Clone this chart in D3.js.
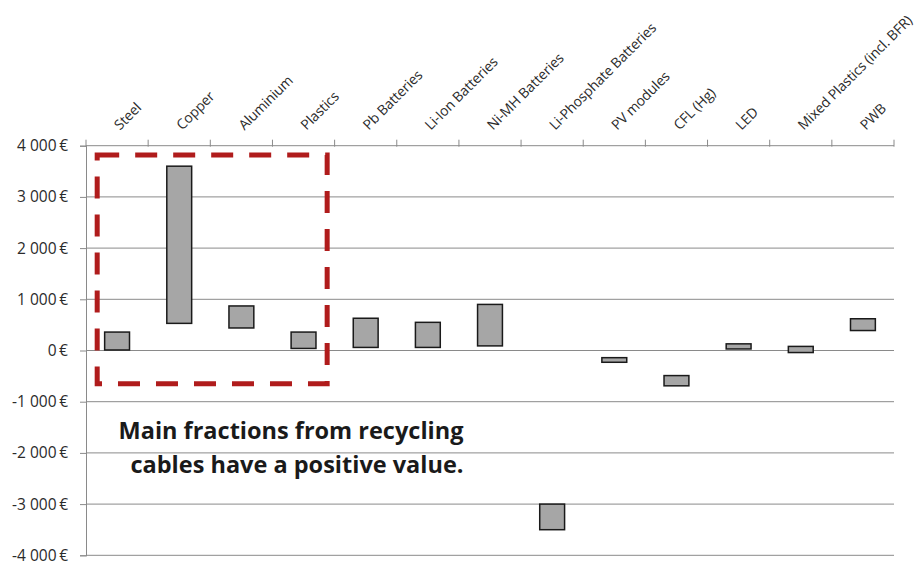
<!DOCTYPE html>
<html>
<head>
<meta charset="utf-8">
<script src="https://cdn.jsdelivr.net/npm/d3@7/dist/d3.min.js"></script>
<style>
  html, body { margin: 0; padding: 0; background: #fff; }
  svg { display: block; }
  text { font-family: "Open Sans", "DejaVu Sans", sans-serif; }
</style>
</head>
<body>
<svg id="chart" width="920" height="565"></svg>
<script>
// Value range (€) of each recovered fraction: lower and upper bound
const categories = ["Steel", "Copper", "Aluminium", "Plastics", "Pb Batteries", "Li-Ion Batteries",
  "Ni-MH Batteries", "Li-Phosphate Batteries", "PV modules", "CFL (Hg)", "LED",
  "Mixed Plastics (incl. BFR)", "PWB"];
const lowValues  = [10, 530, 440, 40, 60, 60, 90, -3500, -230, -690, 30, -40, 390];
const highValues = [360, 3600, 870, 360, 630, 550, 900, -3000, -140, -490, 130, 80, 620];
const yTicks = [4000, 3000, 2000, 1000, 0, -1000, -2000, -3000, -4000];
const noteLines = ["Main fractions from recycling", "cables have a positive value."];

const svg = d3.select("#chart");
const plotLeft = 86, plotRight = 894, plotTop = 145.7, plotBottom = 555.3;

const x = d3.scaleBand().domain(categories).range([plotLeft, plotRight]).padding(0);
const y = d3.scaleLinear().domain([-4000, 4000]).range([plotBottom, plotTop]);

const euro = d3.formatLocale({
  decimal: ",", thousands: "\u00a0", grouping: [3], currency: ["", "\u2009€"], minus: "-"
}).format("$,");

const axisGrey = "#8a8a8a";

// horizontal gridlines
svg.append("g")
  .selectAll("line")
  .data(yTicks.filter(d => d !== 4000))
  .join("line")
  .attr("x1", plotLeft).attr("x2", plotRight)
  .attr("y1", d => y(d)).attr("y2", d => y(d))
  .attr("stroke", axisGrey).attr("stroke-width", 1);

// value axis on the left
const yAxis = svg.append("g")
  .attr("transform", `translate(${plotLeft},0)`)
  .call(d3.axisLeft(y).tickValues(yTicks).tickSize(6).tickPadding(12).tickFormat(euro));
yAxis.select(".domain").attr("stroke", axisGrey);
yAxis.selectAll(".tick line").attr("stroke", axisGrey).attr("x2", -6).attr("x1", 1);
yAxis.selectAll(".tick text")
  .attr("fill", "#2b2b2b").style("font-size", "15.5px")
  .style("font-family", "\"Open Sans\", sans-serif");

// category axis along the top, with boundary ticks between bands
const xAxisG = svg.append("g").attr("class", "x-axis");
xAxisG.append("line")
  .attr("x1", plotLeft).attr("x2", plotRight)
  .attr("y1", y(4000)).attr("y2", y(4000))
  .attr("stroke", axisGrey);
const bounds = categories.map(c => x(c)).concat([x(categories[categories.length - 1]) + x.bandwidth()]);
xAxisG.selectAll("line.tick")
  .data(bounds)
  .join("line")
  .attr("class", "tick")
  .attr("x1", d => d).attr("x2", d => d)
  .attr("y1", y(4000) - 6).attr("y2", y(4000) + 1)
  .attr("stroke", axisGrey);
xAxisG.selectAll("text")
  .data(categories)
  .join("text")
  .attr("transform", d => `translate(${x(d) + x.bandwidth() / 2 + 3},${y(4000) - 15}) rotate(-45)`)
  .attr("text-anchor", "start")
  .attr("fill", "#2b2b2b")
  .style("font-size", "14px")
  .style("letter-spacing", "-0.15px")
  .text(d => d);

// floating bars from low to high value
const barW = x.bandwidth() * 0.4;
svg.append("g")
  .selectAll("rect")
  .data(categories)
  .join("rect")
  .attr("x", (d) => x(d) + (x.bandwidth() - barW) / 2)
  .attr("y", (d, i) => y(highValues[i]))
  .attr("width", barW)
  .attr("height", (d, i) => y(lowValues[i]) - y(highValues[i]))
  .attr("fill", "#a6a6a6")
  .attr("stroke", "#1a1a1a")
  .attr("stroke-width", 1.5);

// highlight frame around the cable fractions
const boxLeft = x("Steel") + x.bandwidth() * 0.18;
const boxRight = x("Plastics") + x.bandwidth() * 0.88;
const boxTop = y(3820), boxBottom = y(-650);
svg.append("rect")
  .attr("x", boxLeft).attr("y", boxTop)
  .attr("width", boxRight - boxLeft).attr("height", boxBottom - boxTop)
  .attr("fill", "none")
  .attr("stroke", "#b01c1c")
  .attr("stroke-width", 5)
  .attr("stroke-dasharray", "22,16");

// annotation
const noteX = [291, 297];
svg.append("g")
  .selectAll("text")
  .data(noteLines)
  .join("text")
  .attr("x", (d, i) => noteX[i])
  .attr("y", (d, i) => y(-1730) + i * 34)
  .attr("text-anchor", "middle")
  .attr("fill", "#1a1a1a")
  .style("font-size", "23.5px")
  .style("font-weight", "bold")
  .text(d => d);
</script>
</body>
</html>
